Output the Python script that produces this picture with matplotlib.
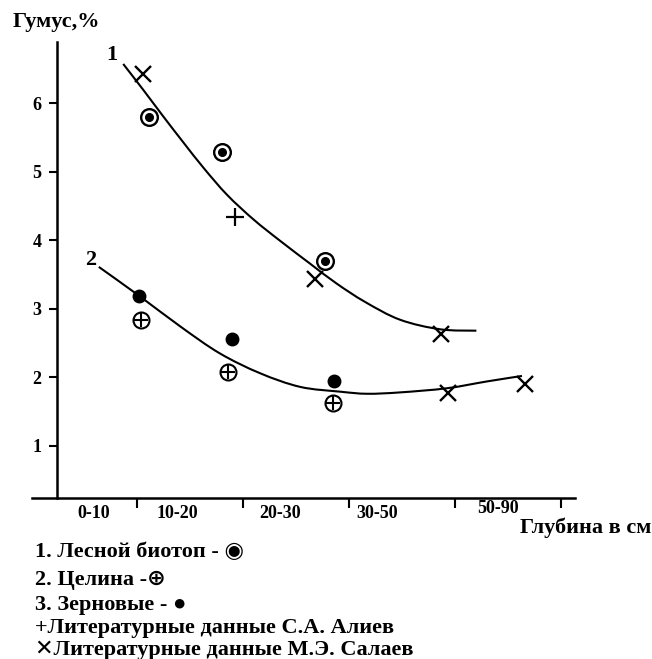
import matplotlib.pyplot as plt
from matplotlib.path import Path
from matplotlib.patches import PathPatch

plt.rcParams['font.family'] = ['Liberation Serif', 'DejaVu Sans']
plt.rcParams['font.weight'] = 'bold'

# depth intervals (labels sit between the boundary ticks)
depth_labels = ['0-10', '10-20', '20-30', '30-50', '50-90']
depth_label_x = [0.59, 1.38, 2.35, 3.26, 4.40]
depth_bounds = [1, 2, 3, 4, 5]
humus_ticks = [1, 2, 3, 4, 5, 6]

# trend curve 1 (forest)
curve1_x = [0.87, 1.06, 1.25, 1.44, 1.63, 1.85, 2.10, 2.35, 2.63, 2.88, 3.15, 3.48, 3.86, 4.20]
curve1_y = [6.57, 6.19, 5.80, 5.42, 5.05, 4.66, 4.30, 3.99, 3.66, 3.37, 3.10, 2.84, 2.70, 2.68]

# trend curve 2 (virgin land / grain)
curve2_x = [0.64, 1.01, 1.41, 1.78, 2.16, 2.54, 2.92, 3.17, 3.48, 3.92, 4.30, 4.63]
curve2_y = [3.61, 3.20, 2.74, 2.35, 2.06, 1.86, 1.79, 1.76, 1.78, 1.84, 1.94, 2.02]

# measured points
forest_x = [1.11, 1.80, 2.77]
forest_y = [5.80, 5.28, 3.69]
virgin_x = [1.04, 1.86, 2.85]
virgin_y = [2.84, 2.08, 1.62]
grain_x = [1.02, 1.90, 2.86]
grain_y = [3.19, 2.56, 1.95]
aliev_x = [1.92]
aliev_y = [4.34]
salaev_x = [1.06, 2.68, 3.87, 3.93, 4.66]
salaev_y = [6.43, 3.44, 2.63, 1.77, 1.90]

legend_lines = [
    '1. Лесной биотоп - ◉',
    '2. Целина -⊕',
    '3. Зерновые - ●',
    '+Литературные данные С.А. Алиев',
    '✕Литературные данные М.Э. Салаев',
]


def smooth_curve(xs, ys):
    # smoothed line through the points (Catmull-Rom as cubic bezier)
    pts = list(zip(xs, ys))
    verts = [pts[0]]
    codes = [Path.MOVETO]
    n = len(pts)
    for i in range(n - 1):
        p0 = pts[max(i - 1, 0)]
        p1 = pts[i]
        p2 = pts[i + 1]
        p3 = pts[min(i + 2, n - 1)]
        c1 = (p1[0] + (p2[0] - p0[0]) / 6, p1[1] + (p2[1] - p0[1]) / 6)
        c2 = (p2[0] - (p3[0] - p1[0]) / 6, p2[1] - (p3[1] - p1[1]) / 6)
        verts += [c1, c2, p2]
        codes += [Path.CURVE4] * 3
    return PathPatch(Path(verts, codes), fill=False, edgecolor='black', lw=1.5)


fig = plt.figure(figsize=(6.52, 6.59), dpi=100)
ax = fig.add_axes([32 / 652, 1 - 498 / 659, 543 / 652, 456 / 659])

ax.add_patch(smooth_curve(curve1_x, curve1_y))
ax.add_patch(smooth_curve(curve2_x, curve2_y))

# circled dot
ax.plot(forest_x, forest_y, 'o', ms=12, mfc='white', mec='black', mew=1.7, zorder=3)
ax.plot(forest_x, forest_y, 'o', ms=5.5, color='black', zorder=4)
# circled plus
ax.plot(virgin_x, virgin_y, 'o', ms=11.5, mfc='white', mec='black', mew=1.5, zorder=3)
ax.plot(virgin_x, virgin_y, '+', ms=10, mec='black', mew=1.5, zorder=4)
# filled dot
ax.plot(grain_x, grain_y, 'o', ms=9, color='black', zorder=3)
ax.plot(aliev_x, aliev_y, '+', ms=13, mec='black', mew=1.6, zorder=3)
ax.plot(salaev_x, salaev_y, 'x', ms=11, mec='black', mew=1.7, zorder=3)

ax.text(0.76, 6.70, '1', fontsize=16, ha='center', va='center')
ax.text(0.56, 3.71, '2', fontsize=16, ha='center', va='center')

ax.set_xlim(0.01, 5.13)
ax.set_ylim(0.24, 6.89)
ax.spines['top'].set_visible(False)
ax.spines['right'].set_visible(False)
ax.spines['left'].set_position(('data', 0.245))
ax.spines['left'].set_linewidth(1.8)
ax.spines['bottom'].set_linewidth(1.8)

ax.set_yticks(humus_ticks)
ax.set_yticklabels([str(t) for t in humus_ticks], fontsize=13, fontweight='bold')
ax.tick_params(axis='y', direction='out', length=6, width=1.5, pad=5)
ax.set_xticks(depth_bounds)
ax.set_xticklabels([])
ax.tick_params(axis='x', direction='out', length=7, width=1.5)

for i, lab in enumerate(depth_labels):
    yy = -0.024 if lab == '50-90' else -0.033
    ax.text(depth_label_x[i], yy, lab, transform=ax.get_xaxis_transform(),
            fontsize=13, ha='center', va='center')

fig.text(13 / 652, 1 - 22 / 659, 'Гумус,%', fontsize=16, ha='left', va='center')
fig.text(651 / 652, 1 - 528 / 659, 'Глубина в см', fontsize=16, ha='right', va='center')

legend_base = [557, 585, 610, 633, 655]
for i, line in enumerate(legend_lines):
    fig.text(35 / 652, 1 - legend_base[i] / 659, line, fontsize=16, ha='left', va='baseline')

fig.savefig('out.png', dpi=100, facecolor='white')
